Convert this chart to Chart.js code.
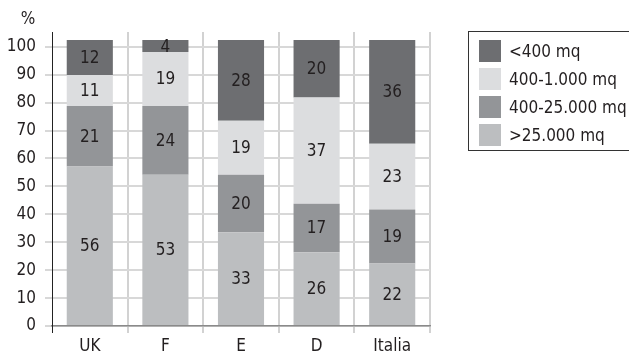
<!DOCTYPE html>
<html>
<head>
<meta charset="utf-8">
<script src="https://cdn.jsdelivr.net/npm/chart.js@4/dist/chart.umd.min.js"></script>
<style>
  html, body { margin: 0; padding: 0; background: #fff; overflow: hidden; }
  #wrap { position: relative; width: 629px; height: 353px; }
  #legend {
    position: absolute; left: 468px; top: 31px; width: 200px; height: 120px;
    border: 1px solid #333; box-sizing: border-box; padding: 5px 0 0 10px;
    font-family: "DejaVu Sans", sans-serif; font-stretch: condensed;
    font-size: 17px; color: #231f20;
  }
  .item { display: flex; align-items: center; height: 27.9px; }
  .sw { width: 22px; height: 22px; margin-right: 8px; flex: none; }
</style>
</head>
<body>
<div id="wrap">
  <canvas id="c" width="629" height="353"></canvas>
  <div id="legend"></div>
</div>
<script>
const categories = ["UK", "F", "E", "D", "Italia"];
const seriesNames = [">25.000 mq", "400-25.000 mq", "400-1.000 mq", "<400 mq"];
// bar heights as drawn in the picture
const over25000 = [57.1, 54.2, 33.6, 26.4, 22.4];
const s400to25000 = [21.7, 24.6, 20.6, 17.4, 19.3];
const s400to1000 = [11.1, 19.3, 19.3, 38.0, 23.6];
const under400 = [12.5, 4.3, 28.9, 20.6, 37.1];
// printed labels
const over25000Labels = [56, 53, 33, 26, 22];
const s400to25000Labels = [21, 24, 20, 17, 19];
const s400to1000Labels = [11, 19, 19, 37, 23];
const under400Labels = [12, 4, 28, 20, 36];
const yTicks = [0, 10, 20, 30, 40, 50, 60, 70, 80, 90, 100];

const colors = ["#bcbec0", "#939598", "#dcdddf", "#6d6e71"];

const FAMILY = '"DejaVu Sans"';
const STRETCH = 'condensed';
const SIZE = 17;

const seriesData = [over25000, s400to25000, s400to1000, under400];
const seriesLabels = [over25000Labels, s400to25000Labels, s400to1000Labels, under400Labels];

const datasets = seriesData.map((d, i) => ({
  label: seriesNames[i],
  data: d,
  valueLabels: seriesLabels[i],
  backgroundColor: colors[i],
  borderWidth: 0,
  barPercentage: 0.61,
  categoryPercentage: 1.0
}));

const labelPlugin = {
  id: 'valueLabels',
  afterDatasetsDraw(chart) {
    const ctx = chart.ctx;
    ctx.save();
    ctx.font = STRETCH + ' ' + SIZE + 'px ' + FAMILY;
    ctx.fillStyle = '#231f20';
    ctx.textAlign = 'center';
    ctx.textBaseline = 'middle';
    chart.data.datasets.forEach((ds, di) => {
      const meta = chart.getDatasetMeta(di);
      meta.data.forEach((el, i) => {
        ctx.fillText(String(ds.valueLabels[i]), el.x, (el.y + el.base) / 2 + 1);
      });
    });
    ctx.fillText('%', chart.chartArea.left - 24, chart.chartArea.top - 12);
    ctx.restore();
  }
};

const tickFont = { family: FAMILY, size: SIZE, weight: STRETCH };

new Chart(document.getElementById('c'), {
  type: 'bar',
  data: { labels: categories, datasets },
  options: {
    responsive: false,
    animation: false,
    layout: { padding: { top: 32, right: 199, left: 0, bottom: 0 } },
    plugins: { legend: { display: false }, tooltip: { enabled: false } },
    scales: {
      x: {
        stacked: true,
        afterFit: s => { s.height = 27; },
        grid: {
          offset: true,
          color: c => c.index === 0 ? '#222' : '#d2d2d2',
          lineWidth: c => c.index === 0 ? 1 : 2,
          tickLength: 7,
          drawTicks: true
        },
        border: { display: true, color: '#8a8a8a', width: 1.5 },
        ticks: { color: '#231f20', font: tickFont, padding: 3 }
      },
      y: {
        stacked: true,
        min: 0,
        max: 105.3,
        afterFit: s => { s.width = 52; },
        afterBuildTicks: s => { s.ticks = yTicks.map(v => ({ value: v })); },
        grid: {
          color: '#d8d8d8',
          lineWidth: 2,
          tickLength: 7,
          drawTicks: true
        },
        border: { display: true, color: '#222', width: 1 },
        ticks: { color: '#231f20', font: tickFont, padding: 9 }
      }
    }
  },
  plugins: [labelPlugin]
});

const leg = document.getElementById('legend');
for (let i = seriesNames.length - 1; i >= 0; i--) {
  const it = document.createElement('div');
  it.className = 'item';
  const sw = document.createElement('div');
  sw.className = 'sw';
  sw.style.background = colors[i];
  const tx = document.createElement('span');
  tx.textContent = seriesNames[i];
  it.appendChild(sw);
  it.appendChild(tx);
  leg.appendChild(it);
}
</script>
</body>
</html>
